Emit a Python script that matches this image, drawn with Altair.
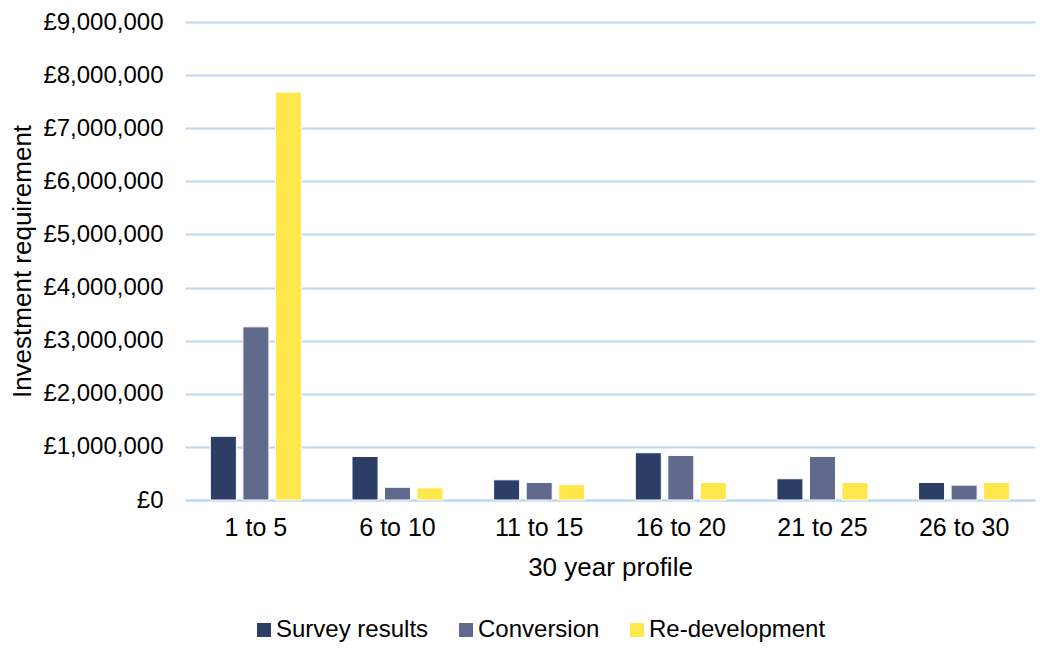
import altair as alt
import pandas as pd

categories = ["1 to 5", "6 to 10", "11 to 15", "16 to 20", "21 to 25", "26 to 30"]
series = ["Survey results", "Conversion", "Re-development"]
survey = [1200000, 820000, 380000, 890000, 400000, 330000]
conversion = [3260000, 240000, 330000, 840000, 820000, 280000]
redevelopment = [7680000, 230000, 290000, 330000, 330000, 330000]
colors = ["#2C3E66", "#5F6A8C", "#FFE74C"]
y_ticks = [0, 1000000, 2000000, 3000000, 4000000, 5000000, 6000000, 7000000, 8000000, 9000000]

rows = []
for name, vals in zip(series, [survey, conversion, redevelopment]):
    for c, v in zip(categories, vals):
        rows.append({"period": c, "series": name, "value": v})
df = pd.DataFrame(rows)

FONT = "Liberation Sans"

chart = alt.Chart(df).mark_bar(stroke="white", strokeWidth=1).encode(
    x=alt.X("period:N", sort=categories,
            scale=alt.Scale(paddingInner=0.357, paddingOuter=0.179),
            axis=alt.Axis(title="30 year profile", labelAngle=0, ticks=False,
                          domainColor="#BDD7EE", domainWidth=2,
                          labelFontSize=25, titleFontSize=26, labelPadding=15,
                          titlePadding=14, labelColor="#000", titleColor="#000",
                          titleFontWeight="normal")),
    xOffset=alt.XOffset("series:N", sort=series,
                        scale=alt.Scale(paddingInner=0.2, paddingOuter=0)),
    y=alt.Y("value:Q", scale=alt.Scale(domain=[0, 9000000], nice=False),
            axis=alt.Axis(title="Investment requirement",
                          values=y_ticks, labelOverlap=False,
                          labelExpr="'£' + format(datum.value, ',')",
                          ticks=False, domain=False, gridColor="#BDD7EE",
                          gridWidth=2, labelFontSize=24, titleFontSize=26,
                          labelPadding=22, titlePadding=7, labelColor="#000",
                          titleColor="#000", titleFontWeight="normal")),
    color=alt.Color("series:N", sort=series,
                    scale=alt.Scale(domain=series, range=colors),
                    legend=alt.Legend(title=None, orient="none", direction="horizontal",
                                      legendX=67, legendY=596, symbolType="square",
                                      symbolSize=196, symbolStrokeWidth=0,
                                      labelFontSize=24, labelColor="#000", labelLimit=0,
                                      columnPadding=25, labelOffset=0)),
).properties(
    width=850, height=478,
    autosize=alt.AutoSizeParams(type="none"),
    padding={"left": 177, "top": 14, "right": 10, "bottom": 143},
).configure(font=FONT).configure_view(stroke=None)

chart.save("out.html", embed_options={"renderer": "svg", "actions": False})
